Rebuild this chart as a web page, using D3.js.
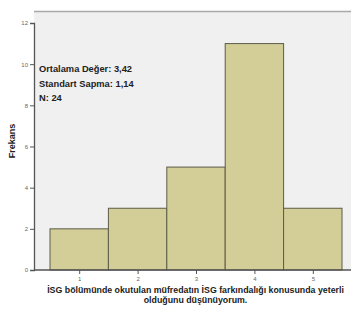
<!DOCTYPE html>
<html>
<head>
<meta charset="utf-8">
<script src="https://cdn.jsdelivr.net/npm/d3@7"></script>
<style>
  body { margin: 0; background: #fff; }
  text { font-family: "Liberation Sans", Arial, sans-serif; }
</style>
</head>
<body>
<div id="vis"></div>
<script>
// chart data
var categories = [1, 2, 3, 4, 5],
  frequencies = [2, 3, 5, 11, 3],
  yTicks = [0, 2, 4, 6, 8, 10, 12],
  statLines = ["Ortalama Değer: 3,42", "Standart Sapma: 1,14", "N: 24"],
  xTitle = ["İSG bölümünde okutulan müfredatın İSG farkındalığı konusunda yeterli", "olduğunu düşünüyorum."],
  yTitle = "Frekans";

var width = 351, height = 309,
  margin = {top: 11, right: 0, bottom: 39, left: 34},
  plotW = width - margin.left - margin.right,
  plotH = height - margin.top - margin.bottom;

var svg = d3.select("#vis").append("svg")
  .attr("width", width)
  .attr("height", height);

var g = svg.append("g")
  .attr("transform", "translate(" + margin.left + "," + margin.top + ")");

// plot background
g.append("rect")
  .attr("width", plotW + 5)
  .attr("height", plotH)
  .attr("fill", "#f0f0f0");

g.append("line")
  .attr("x1", 0).attr("x2", plotW + 5)
  .attr("y1", 0.5).attr("y2", 0.5)
  .attr("stroke", "#a8a8a8")
  .attr("stroke-width", 1.5);

var x = d3.scaleLinear().domain([0.5, 5.5]).range([16, 308]);
var y = d3.scaleLinear().domain([0, 12]).range([plotH, 12]);

// bars
g.selectAll(".bar")
  .data(categories)
  .enter().append("rect")
  .attr("class", "bar")
  .attr("x", function(d) { return x(d - 0.5); })
  .attr("width", function(d) { return x(d + 0.5) - x(d - 0.5); })
  .attr("y", function(d, i) { return y(frequencies[i]); })
  .attr("height", function(d, i) { return plotH - y(frequencies[i]); })
  .attr("fill", "#d3ce97")
  .attr("stroke", "#5c5c48")
  .attr("stroke-width", 1);

// axes
var yAxis = g.append("g")
  .call(d3.axisLeft(y).tickValues(yTicks).tickSize(4).tickPadding(2));
var xAxis = g.append("g")
  .attr("transform", "translate(0," + plotH + ")")
  .call(d3.axisBottom(x).tickValues(categories).tickFormat(d3.format("d"))
    .tickSize(4).tickPadding(3));

// bottom axis line spans the whole plot width
xAxis.select(".domain").remove();
xAxis.append("line")
  .attr("x1", 0).attr("x2", plotW + 5)
  .attr("stroke", "#555").attr("stroke-width", 1.3);

[xAxis, yAxis].forEach(function(a) {
  a.select(".domain").attr("stroke", "#555").attr("stroke-width", 1.3);
  a.selectAll(".tick line").attr("stroke", "#555");
  a.selectAll(".tick text")
    .attr("fill", "#666")
    .style("font-size", "6px");
});

// statistics text
g.selectAll(".stat")
  .data(statLines)
  .enter().append("text")
  .attr("x", 5)
  .attr("y", function(d, i) { return 61 + i * 14.5; })
  .style("font-size", "9.3px")
  .style("font-weight", "bold")
  .attr("fill", "#222")
  .text(function(d) { return d; });

// axis titles
svg.append("text")
  .attr("transform", "translate(15,141) rotate(-90)")
  .attr("text-anchor", "middle")
  .style("font-size", "9px")
  .style("font-weight", "bold")
  .attr("fill", "#222")
  .text(yTitle);

svg.selectAll(".xtitle")
  .data(xTitle)
  .enter().append("text")
  .attr("x", 195.5)
  .attr("y", function(d, i) { return 293 + i * 9.5; })
  .attr("text-anchor", "middle")
  .style("font-size", "8.8px")
  .style("font-weight", "bold")
  .attr("fill", "#222")
  .text(function(d) { return d; });
</script>
</body>
</html>
